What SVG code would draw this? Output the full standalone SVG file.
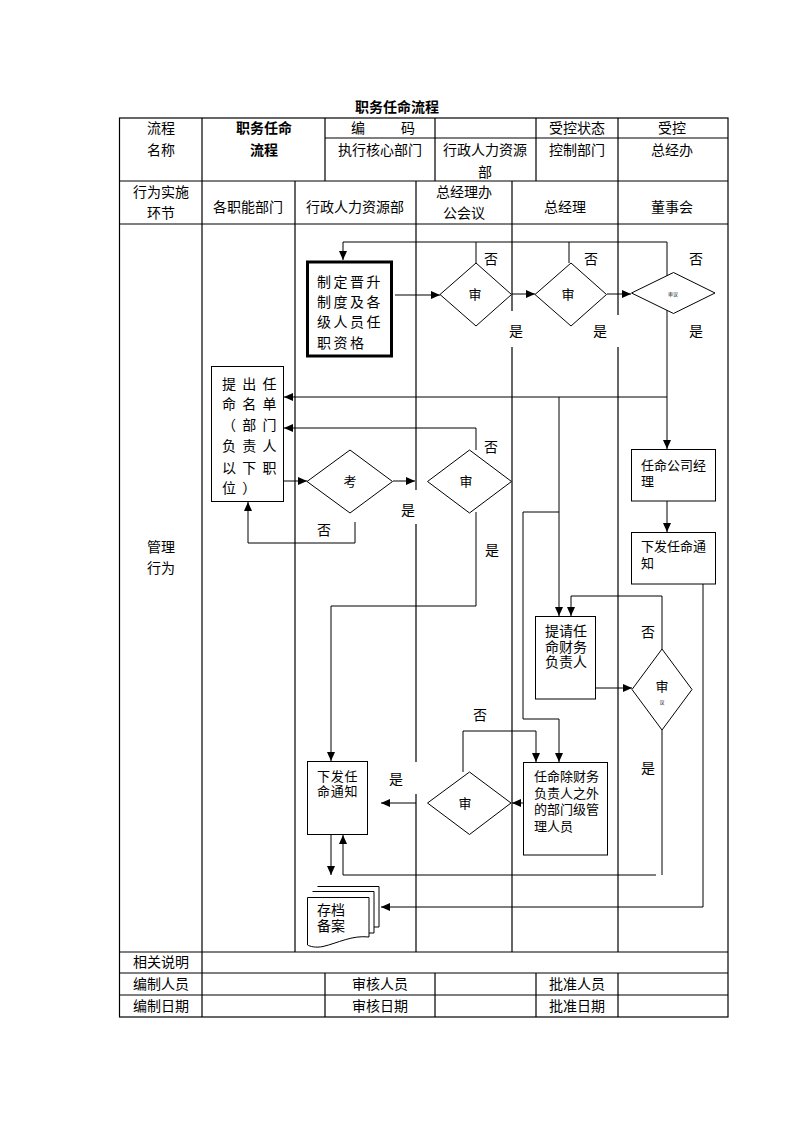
<svg xmlns="http://www.w3.org/2000/svg" width="794" height="1123" viewBox="0 0 794 1123">
<style>
text{font-family:"Liberation Sans","Noto Sans CJK SC",sans-serif;font-size:14px;fill:#000}
.c{text-anchor:middle}
.b{font-weight:bold}
.s13{font-size:13px}
.t{stroke:#000;stroke-width:1.2;fill:none}
.n{stroke:#000;stroke-width:1;fill:#fff}
.l{stroke:#000;stroke-width:1;fill:none}
.a{marker-end:url(#ah)}
</style>
<defs>
<marker id="ah" markerUnits="userSpaceOnUse" markerWidth="9" markerHeight="8" refX="9" refY="4" orient="auto">
<path d="M0,0 L9,4 L0,8 z" fill="#000"/>
</marker>
</defs>
<rect width="794" height="1123" fill="#fff"/>
<text class="c b" x="397" y="112">职务任命流程</text>
<g id="table">
<rect class="t" x="119.5" y="118" width="608.5" height="899"/>
<path class="t" d="M325,138H728M119.5,181H728M119.5,224H728M119.5,952H728M119.5,973H728M119.5,995H728"/>
<path class="t" d="M202,118V1017M325,118V181M435,118V181M536,118V181M618,118V181"/>
<path class="t" d="M295,181V952M416,181V490M416,524V762M416,794V952M512,181V311M512,347V952M618,181V315M618,347V952"/>
<path class="t" d="M325,973V1017M435,973V1017M536,973V1017M618,973V1017"/>
</g>
<g id="header-text">
<text class="c" x="161" y="133">流程</text>
<text class="c" x="161" y="155">名称</text>
<text class="c b" x="264" y="133">职务任命</text>
<text class="c b" x="264" y="155">流程</text>
<text y="133"><tspan x="351">编</tspan><tspan x="401">码</tspan></text>
<text class="c" x="380" y="155">执行核心部门</text>
<text class="c" x="485" y="155">行政人力资源</text>
<text class="c" x="485" y="177">部</text>
<text class="c" x="577" y="133">受控状态</text>
<text class="c" x="577" y="155">控制部门</text>
<text class="c" x="672" y="133">受控</text>
<text class="c" x="672" y="155">总经办</text>
<text class="c" x="161" y="197">行为实施</text>
<text class="c" x="161" y="218">环节</text>
<text class="c" x="248" y="212">各职能部门</text>
<text class="c" x="355" y="212">行政人力资源部</text>
<text class="c" x="464" y="197">总经理办</text>
<text class="c" x="464" y="218">公会议</text>
<text class="c" x="565" y="212">总经理</text>
<text class="c" x="672" y="212">董事会</text>
<text x="147" y="552">管理</text>
<text x="147" y="573">行为</text>
<text class="c" x="161" y="967">相关说明</text>
<text class="c" x="161" y="989">编制人员</text>
<text class="c" x="380" y="989">审核人员</text>
<text class="c" x="577" y="989">批准人员</text>
<text class="c" x="161" y="1011">编制日期</text>
<text class="c" x="380" y="1011">审核日期</text>
<text class="c" x="577" y="1011">批准日期</text>
</g>
<g id="connectors">
<path class="l a" d="M667,276V242H343V260"/>
<path class="l" d="M476,263V242M569,263V242"/>
<path class="l a" d="M395,295H440"/>
<path class="l a" d="M512,294H535"/>
<path class="l a" d="M607,294H631"/>
<path class="l a" d="M667,310V449"/>
<path class="l a" d="M667,397H284"/>
<path class="l a" d="M667,501V532"/>
<path class="l a" d="M559,397V616"/>
<path class="l a" d="M559,512H523V719H559V762"/>
<path class="l a" d="M476,450V428H284"/>
<path class="l a" d="M283,481H307"/>
<path class="l a" d="M393,481H415"/>
<path class="l a" d="M355,522V543H248V502"/>
<path class="l a" d="M476,512V606H331V761"/>
<path class="l a" d="M596,688H632"/>
<path class="l a" d="M662,649V596H571V616"/>
<path class="l" d="M662,730V875"/>
<path class="l a" d="M656,875H343V835"/>
<path class="l a" d="M703,584V907H381"/>
<path class="l a" d="M523,803H512"/>
<path class="l a" d="M416,803H381"/>
<path class="l a" d="M463,772V731H536V762"/>
<path class="l a" d="M331,835V875"/>
<text x="484" y="264">否</text>
<text x="584" y="264">否</text>
<text x="689" y="264">否</text>
<text x="509" y="336">是</text>
<text x="593" y="336">是</text>
<text x="689" y="336">是</text>
<text x="484" y="452">否</text>
<text x="401" y="515">是</text>
<text x="317" y="535">否</text>
<text x="485" y="555">是</text>
<text x="641" y="637">否</text>
<text x="641" y="773">是</text>
<text x="473" y="720">否</text>
<text x="389" y="784">是</text>
</g>
<g id="n-zhiding">
<rect x="307.5" y="262" width="84" height="94" fill="#fff" stroke="#000" stroke-width="3"/>
<text x="317" y="287" style="letter-spacing:2.5px">制定晋升</text>
<text x="317" y="307" style="letter-spacing:2.5px">制度及各</text>
<text x="317" y="327" style="letter-spacing:2.5px">级人员任</text>
<text x="317" y="348" style="letter-spacing:2.5px">职资格</text>
</g>
<g id="n-shen1">
<polygon class="n" points="440,294.5 476,263 511.5,294.5 476,326"/>
<text class="c s13" x="475" y="299">审</text>
</g>
<g id="n-shen2">
<polygon class="n" points="535,294.5 571,263 606.5,294.5 571,326"/>
<text class="c s13" x="568" y="299">审</text>
</g>
<g id="n-shen3">
<polygon class="n" points="631.5,293 673.5,272.5 715,293 673.5,313.5"/>
<text class="c" x="673" y="296" style="font-size:5px">审议</text>
</g>
<g id="n-tichu">
<rect class="n" x="211.5" y="366.5" width="72" height="135"/>
<text x="222" y="389" style="letter-spacing:6.3px">提出任</text>
<text x="222" y="409" style="letter-spacing:6.3px">命名单</text>
<text x="222" y="430" style="letter-spacing:6.3px">（部门</text>
<text x="222" y="451" style="letter-spacing:6.3px">负责人</text>
<text x="222" y="473" style="letter-spacing:6.3px">以下职</text>
<text x="222" y="493" style="letter-spacing:6.3px">位）</text>
</g>
<g id="n-kao">
<polygon class="n" points="307,481.5 350,450 392.5,481.5 350,513"/>
<text class="c s13" x="350" y="486">考</text>
</g>
<g id="n-shen4">
<polygon class="n" points="427.5,481.5 469.5,450 511.5,481.5 469.5,513"/>
<text class="c s13" x="466" y="486">审</text>
</g>
<g id="n-renming-jingli">
<rect class="n" x="631.5" y="449.5" width="84" height="51.5"/>
<text class="s13" x="641" y="470">任命公司经</text>
<text class="s13" x="641" y="486">理</text>
</g>
<g id="n-xiafa-right">
<rect class="n" x="631.5" y="532.5" width="84" height="51.5"/>
<text class="s13" x="641" y="551">下发任命通</text>
<text class="s13" x="641" y="568">知</text>
</g>
<g id="n-tiqing">
<rect class="n" x="535.5" y="616.5" width="60" height="82.5"/>
<text x="545" y="636">提请任</text>
<text x="545" y="652">命财务</text>
<text x="545" y="667">负责人</text>
</g>
<g id="n-shen5">
<polygon class="n" points="632,689.5 662,649 692,689.5 662,730"/>
<text class="c s13" x="662" y="691">审</text>
<text class="c" x="662" y="704" style="font-size:5px">议</text>
</g>
<g id="n-renming-bumen">
<rect class="n" x="523.5" y="762.5" width="84" height="92.5"/>
<text class="s13" x="534" y="781">任命除财务</text>
<text class="s13" x="534" y="798">负责人之外</text>
<text class="s13" x="534" y="814">的部门级管</text>
<text class="s13" x="534" y="831">理人员</text>
</g>
<g id="n-shen6">
<polygon class="n" points="427.5,803 469.5,772 511,803 469.5,834.5"/>
<text class="c s13" x="465" y="808">审</text>
</g>
<g id="n-xiafa-left">
<rect class="n" x="307.5" y="761.5" width="60" height="73"/>
<text class="s13" x="317" y="781" style="letter-spacing:0.7px">下发任</text>
<text class="s13" x="317" y="796" style="letter-spacing:0.7px">命通知</text>
</g>
<g id="n-cundang">
<path class="n" d="M317.5,886.5H379V927H374"/>
<path class="n" d="M312.5,891.5H374V933H369"/>
<path class="n" d="M307.5,897.5H369V937C352,935 338,943 323,946.5C316,948 310,946.5 307.5,945Z"/>
<text x="317" y="915">存档</text>
<text x="317" y="931">备案</text>
</g>
</svg>
